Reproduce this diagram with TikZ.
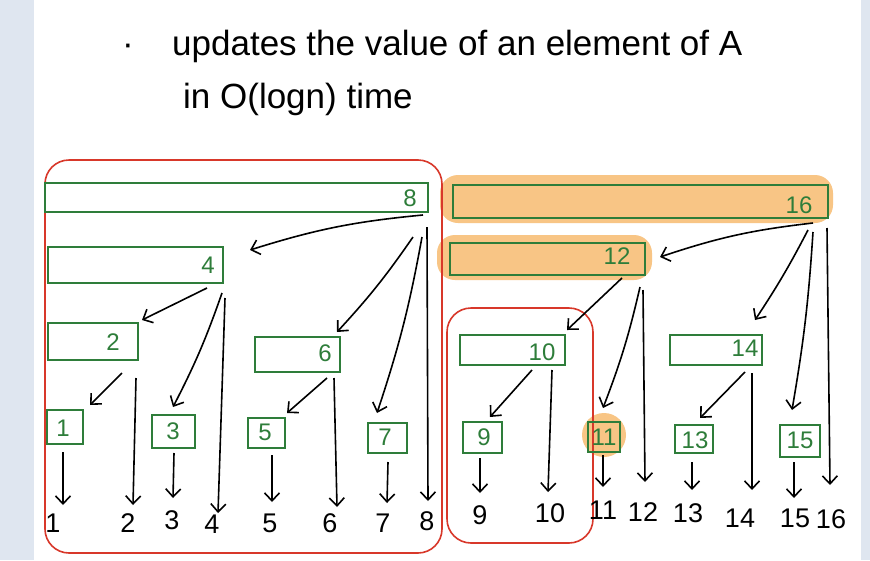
\documentclass[tikz,border=0pt]{standalone}
\usepackage{fontspec}
\setmainfont{Liberation Sans}
\usetikzlibrary{arrows.meta,calc}
\definecolor{gframe}{HTML}{DFE6F0}
\definecolor{gline}{HTML}{2E7D3A}
\definecolor{hl}{HTML}{F8C585}
\definecolor{redln}{HTML}{D8382A}
\tikzset{
  gbox/.style={draw=gline,line width=2.2pt,inner sep=0pt,fill=none},
  glab/.style={text=gline,font=\fontsize{24}{24}\selectfont,inner sep=0pt},
  num/.style={text=black,font=\fontsize{27}{27}\selectfont,inner sep=0pt},
  arr/.style={draw=black,line width=1.6pt,-{Straight Barb[length=8pt,width=15pt,line width=1.6pt]}},
  redbox/.style={draw=redln,line width=1.6pt,rounded corners=24pt},
  hlbox/.style={fill=hl,draw=none,rounded corners=18pt},
  title/.style={font=\fontsize{35}{35}\selectfont,inner sep=0pt,anchor=base west}
}
\begin{document}
\begin{tikzpicture}[x=1pt,y=-1pt]
\useasboundingbox (0,0) rectangle (870,560);
\fill[white] (0,0) rectangle (870,560);
\fill[gframe] (0,0) rectangle (34,560);
\fill[gframe] (861,0) rectangle (870,560);

% title
\node[title] (bul) at (122,55) {·};
\node[title] (t1) at (172,55) {updates the value of an element of A};
\node[title] (t2) at (183,108) {in O(logn) time};

% highlights
\fill[hlbox] (440,175) rectangle (833,223);
\fill[hlbox] (437,235) rectangle (652,280);
\fill[hl] (604,435) circle (22);

% red boxes
\draw[redbox] (45,160) rectangle (442,553);
\draw[redbox] (447,308) rectangle (593,543);

% green boxes
\node[gbox,minimum width=383,minimum height=29] (b8) at (236.5,197.5) {};
\node[gbox,minimum width=175,minimum height=36] (b4) at (135.5,265) {};
\node[gbox,minimum width=90,minimum height=37] (b2) at (93,341.5) {};
\node[gbox,minimum width=85,minimum height=35] (b6) at (297.5,354.5) {};
\node[gbox,minimum width=36,minimum height=34] (b1) at (65,427) {};
\node[gbox,minimum width=43,minimum height=33] (b3) at (173.5,431.5) {};
\node[gbox,minimum width=37,minimum height=30] (b5) at (266.5,433) {};
\node[gbox,minimum width=39,minimum height=30] (b7) at (387.5,438) {};
\node[gbox,minimum width=375,minimum height=33] (b16) at (640.5,201.5) {};
\node[gbox,minimum width=195,minimum height=32] (b12) at (547.5,259) {};
\node[gbox,minimum width=105,minimum height=30] (b10) at (512.5,350) {};
\node[gbox,minimum width=92,minimum height=30] (b14) at (716,350) {};
\node[gbox,minimum width=39,minimum height=31] (b9) at (482.5,437.5) {};
\node[gbox,minimum width=32,minimum height=30] (b11) at (604,437) {};
\node[gbox,minimum width=38,minimum height=28] (b13) at (694,439) {};
\node[gbox,minimum width=40,minimum height=32] (b15) at (800,441) {};

% box labels
\node[glab] (l8) at (410,198) {8};
\node[glab] (l4) at (208,265) {4};
\node[glab] (l2) at (113,342) {2};
\node[glab] (l6) at (325,353) {6};
\node[glab] (l1) at (63,428) {1};
\node[glab] (l3) at (173,431) {3};
\node[glab] (l5) at (265,432) {5};
\node[glab] (l7) at (385,437) {7};
\node[glab] (l16) at (799,205) {16};
\node[glab] (l12) at (617,256) {12};
\node[glab] (l10) at (542,352) {10};
\node[glab] (l14) at (745,348) {14};
\node[glab] (l9) at (484,437) {9};
\node[glab] (l11) at (604,437) {11};
\node[glab] (l13) at (695,440) {13};
\node[glab] (l15) at (800,440) {15};

% bottom numbers
\node[num] (n1) at (53,523) {1};
\node[num] (n2) at (128,523) {2};
\node[num] (n3) at (172,520) {3};
\node[num] (n4) at (212,524) {4};
\node[num] (n5) at (270,523) {5};
\node[num] (n6) at (330,523) {6};
\node[num] (n7) at (383,523) {7};
\node[num] (n8) at (427,521) {8};
\node[num] (n9) at (480,515) {9};
\node[num] (n10) at (550,513) {10};
\node[num] (n11) at (603,510) {11};
\node[num] (n12) at (643,512) {12};
\node[num] (n13) at (688,513) {13};
\node[num] (n14) at (740,518) {14};
\node[num] (n15) at (795,518) {15};
\node[num] (n16) at (831,519) {16};

% left arrows
\draw[arr] ($(b8)+(186.5,17.5)$) to[bend right=6] ($(b4)+(114.5,-15)$);
\draw[arr] ($(b8)+(176.5,39.5)$) to[bend left=4] ($(b6)+(39.5,-22.5)$);
\draw[arr] ($(b8)+(185.5,39.5)$) to[bend left=4] ($(b7)+(-10.5,-25)$);
\draw[arr] ($(b8)+(190.5,29.5)$) -- ($(n8)+(1,-20)$);
\draw[arr] ($(b4)+(71.5,23)$) -- ($(b2)+(49,-21.5)$);
\draw[arr] ($(b4)+(86.5,28)$) to[bend left=4] ($(b3)+(-0.5,-24.5)$);
\draw[arr] ($(b4)+(89.5,33)$) -- ($(n4)+(6,-11)$);
\draw[arr] ($(b2)+(29,31.5)$) -- ($(b1)+(25,-22)$);
\draw[arr] ($(b2)+(43,36.5)$) -- ($(n2)+(5,-18)$);
\draw[arr] ($(b6)+(29.5,23.5)$) -- ($(b5)+(20.5,-20)$);
\draw[arr] ($(b6)+(36.5,23.5)$) -- ($(n6)+(7,-16)$);
\draw[arr] ($(b1)+(-2,25)$) -- ($(n1)+(10,-18)$);
\draw[arr] ($(b3)+(0.5,21.5)$) -- ($(n3)+(1,-22)$);
\draw[arr] ($(b5)+(5.5,22)$) -- ($(n5)+(2,-21)$);
\draw[arr] ($(b7)+(0.5,24)$) -- ($(n7)+(4,-20)$);

% right arrows
\draw[arr] ($(b16)+(172.5,21.5)$) to[bend right=6] ($(b12)+(112.5,-2)$);
\draw[arr] ($(b16)+(167.5,28.5)$) to[bend left=3] ($(b14)+(39,-30)$);
\draw[arr] ($(b16)+(172.5,30.5)$) to[bend left=3] ($(b15)+(-8,-31)$);
\draw[arr] ($(b16)+(186.5,26.5)$) -- ($(n16)+(-1,-34)$);
\draw[arr] ($(b12)+(74.5,19)$) -- ($(b10)+(54.5,-20)$);
\draw[arr] ($(b12)+(92.5,28)$) to[bend left=4] ($(b11)+(-1,-29)$);
\draw[arr] ($(b12)+(95.5,31)$) -- ($(n12)+(2,-30)$);
\draw[arr] ($(b10)+(19.5,20)$) -- ($(b9)+(7.5,-20.5)$);
\draw[arr] ($(b10)+(39.5,20)$) -- ($(n10)+(-2,-21)$);
\draw[arr] ($(b14)+(29,22)$) -- ($(b13)+(6,-21)$);
\draw[arr] ($(b14)+(36,23)$) -- ($(n14)+(12,-28)$);
\draw[arr] ($(b9)+(-2.5,20.5)$) -- ($(n9)+(0,-22)$);
\draw[arr] ($(b11)+(-1,18)$) -- ($(n11)+(0,-23)$);
\draw[arr] ($(b13)+(-2,23)$) -- ($(n13)+(4,-23)$);
\draw[arr] ($(b15)+(-6,21)$) -- ($(n15)+(-1,-20)$);
\end{tikzpicture}
\end{document}
